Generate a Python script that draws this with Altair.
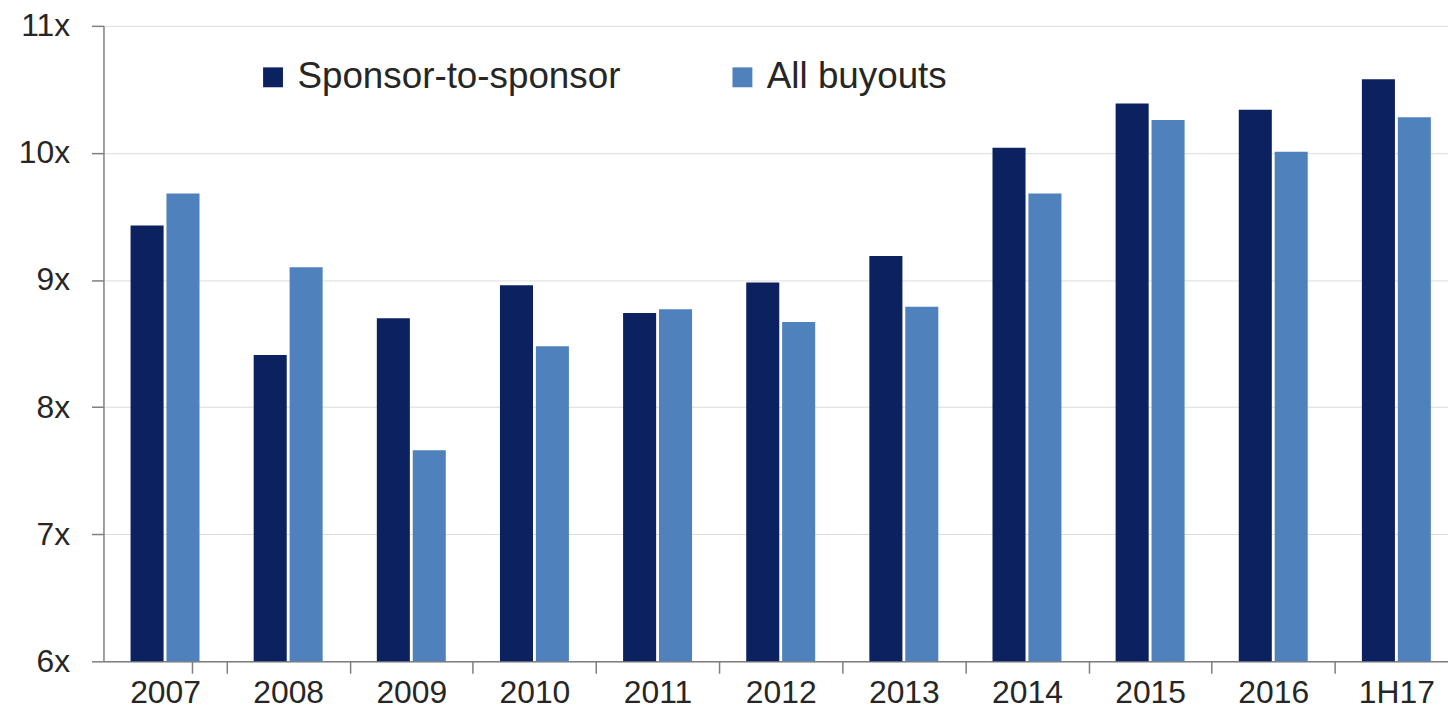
import altair as alt
import pandas as pd

years = ["2007", "2008", "2009", "2010", "2011", "2012", "2013", "2014", "2015", "2016", "1H17"]
series = ["Sponsor-to-sponsor", "All buyouts"]
s2s = [9.43, 8.41, 8.70, 8.96, 8.74, 8.98, 9.19, 10.04, 10.39, 10.34, 10.58]
all_buyouts = [9.68, 9.10, 7.66, 8.48, 8.77, 8.67, 8.79, 9.68, 10.26, 10.01, 10.28]
colors = ["#0b2160", "#4f81bd"]
y_ticks = [6, 7, 8, 9, 10, 11]
y_min = 6

rows = []
for i, yr in enumerate(years):
    rows.append({"year": yr, "series": series[0], "value": s2s[i]})
    rows.append({"year": yr, "series": series[1], "value": all_buyouts[i]})
df = pd.DataFrame(rows)

FONT = "Liberation Sans"
X_RANGE = 1362
half_step = X_RANGE / len(years) / 2

chart = alt.Chart(df).mark_bar().encode(
    x=alt.X("year:N", sort=years,
            scale=alt.Scale(paddingInner=0.44, paddingOuter=0.22, range=[0, X_RANGE]),
            axis=alt.Axis(title=None, labelAngle=0, tickOffset=half_step, tickExtra=True,
                          labelOffset=-half_step,
                          labelFontSize=32, labelFont=FONT, labelColor="#262626",
                          tickSize=12, tickColor="#7f7f7f", tickWidth=1.5,
                          domainColor="#7f7f7f", domainWidth=1.5,
                          labelPadding=4, grid=False)),
    xOffset=alt.XOffset("series:N", sort=series, scale=alt.Scale(paddingInner=0.08)),
    y=alt.Y("value:Q",
            scale=alt.Scale(domain=[6, 11], nice=False, zero=False),
            axis=alt.Axis(title=None, values=y_ticks, labelExpr="datum.value + 'x'",
                          labelFontSize=32, labelFont=FONT, labelColor="#262626",
                          tickSize=12, tickColor="#7f7f7f", tickWidth=1.5,
                          domainColor="#7f7f7f", domainWidth=1.5,
                          labelPadding=22,
                          gridColor="#dcdcdc", gridWidth=1)),
    y2=alt.datum(y_min),
    color=alt.Color("series:N", sort=series,
                    scale=alt.Scale(domain=series, range=colors),
                    legend=alt.Legend(title=None, orient="none", direction="horizontal",
                                      legendX=152, legendY=33,
                                      symbolType="square", symbolSize=400,
                                      symbolStrokeWidth=0, symbolOpacity=1,
                                      labelFontSize=37, labelFont=FONT,
                                      labelColor="#262626", labelOffset=6,
                                      columnPadding=104, labelLimit=600)),
).properties(
    width=1352, height=639,
    autosize=alt.AutoSizeParams(type="none"),
    padding={"left": 96, "top": 16, "right": 0, "bottom": 48},
).configure_view(stroke=None)

chart.save("out.html", embed_options={"renderer": "svg", "actions": False})
